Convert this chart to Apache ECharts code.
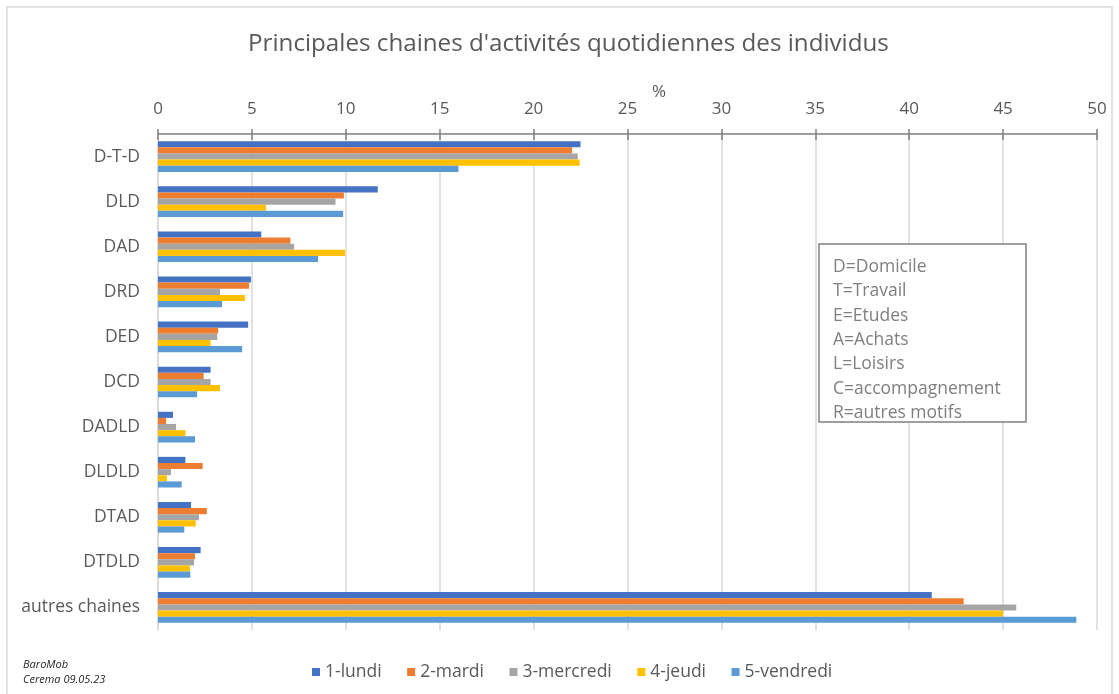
<!DOCTYPE html>
<html>
<head>
<meta charset="utf-8">
<script src="https://cdn.jsdelivr.net/npm/echarts@6/dist/echarts.min.js"></script>
<style>html,body{margin:0;padding:0;background:#fff;}#c{width:1119px;height:694px;}</style>
</head>
<body>
<div id="c"></div>
<script>
const categories = ['D-T-D','DLD','DAD','DRD','DED','DCD','DADLD','DLDLD','DTAD','DTDLD','autres chaines'];
const seriesNames = ['1-lundi','2-mardi','3-mercredi','4-jeudi','5-vendredi'];
const lundi    = [22.5, 11.7, 5.5, 4.95, 4.8, 2.8, 0.8, 1.46, 1.76, 2.27, 41.2];
const mardi    = [22.05, 9.9, 7.05, 4.85, 3.2, 2.43, 0.43, 2.38, 2.6, 1.97, 42.9];
const mercredi = [22.35, 9.45, 7.25, 3.3, 3.15, 2.8, 0.96, 0.69, 2.18, 1.92, 45.7];
const jeudi    = [22.45, 5.75, 9.96, 4.63, 2.8, 3.3, 1.46, 0.48, 2.01, 1.7, 45.0];
const vendredi = [16.0, 9.86, 8.52, 3.41, 4.48, 2.08, 1.97, 1.26, 1.4, 1.72, 48.9];
const xTicks = {min: 0, max: 50, interval: 5};
const titleText = "Principales chaines d'activités quotidiennes des individus";
const keyLines = ['D=Domicile','T=Travail','E=Etudes','A=Achats','L=Loisirs','C=accompagnement','R=autres motifs'];
const sourceLines = ['BaroMob','Cerema 09.05.23'];
const colors = ['#4472C4','#ED7D31','#A5A5A5','#FFC000','#5B9BD5'];

const FONT = '"Open Sans", sans-serif';
const chart = echarts.init(document.getElementById('c'), null, {renderer: 'canvas'});
const data = [lundi, mardi, mercredi, jeudi, vendredi];

chart.setOption({
  animation: false,
  backgroundColor: '#fff',
  color: colors,
  textStyle: {fontFamily: FONT},
  title: {
    text: titleText,
    left: 243,
    top: 27,
    textStyle: {fontFamily: FONT, fontSize: 24.2, fontWeight: 'normal', color: '#595959'}
  },
  legend: {
    bottom: 8,
    left: 307,
    itemWidth: 8,
    itemHeight: 8,
    itemGap: 25.5,
    icon: 'rect',
    textStyle: {fontFamily: FONT, fontSize: 17.5, color: '#595959'},
    data: seriesNames
  },
  grid: {left: 158, right: 22, top: 134, bottom: 64, containLabel: false},
  xAxis: [{
    type: 'value',
    position: 'top',
    min: xTicks.min, max: xTicks.max, interval: xTicks.interval,
    axisLine: {show: true, lineStyle: {color: '#808080', width: 1.5}},
    axisTick: {show: true, length: 5, lineStyle: {color: '#808080', width: 1.5}},
    axisLabel: {margin: 16, fontFamily: FONT, fontSize: 17, color: '#595959'},
    splitLine: {show: true, lineStyle: {color: '#d9d9d9', width: 1.5}}
  }, {
    type: 'value',
    position: 'top',
    min: xTicks.min, max: xTicks.max, interval: xTicks.interval,
    axisLine: {show: false},
    axisTick: {show: true, inside: true, length: 6, lineStyle: {color: '#808080', width: 1.5}},
    axisLabel: {show: false},
    splitLine: {show: false}
  }],
  yAxis: {
    type: 'category',
    inverse: true,
    data: categories,
    axisLine: {show: true, lineStyle: {color: '#d9d9d9', width: 1.5}},
    axisTick: {show: false},
    axisLabel: {margin: 18, fontFamily: FONT, fontSize: 17.5, color: '#595959'}
  },
  series: seriesNames.map((n, i) => ({
    name: n,
    type: 'bar',
    xAxisIndex: 0,
    data: data[i],
    barGap: '0%',
    barCategoryGap: '32%',
    itemStyle: {color: colors[i]}
  })),
  graphic: [
    {type: 'rect', silent: true, shape: {x: 7, y: 7, width: 1105, height: 700},
     style: {fill: 'none', stroke: '#d9d9d9', lineWidth: 1.5}},
    {type: 'text', left: 652, top: 84, style: {text: '%', font: '17px ' + FONT, fill: '#595959'}},
    {type: 'rect', shape: {x: 819, y: 244, width: 207, height: 178},
     style: {fill: '#fff', stroke: '#808080', lineWidth: 1.5}, z: 10},
    {type: 'text', x: 833, y: 255, z: 11,
     style: {text: keyLines.join('\n'), font: '17.5px ' + FONT, fill: '#7f7f7f', lineHeight: 24.3}},
    {type: 'text', x: 23, y: 657,
     style: {text: sourceLines.join('\n'), font: 'italic 11px ' + FONT, fill: '#262626', lineHeight: 15}}
  ]
});
</script>
</body>
</html>
